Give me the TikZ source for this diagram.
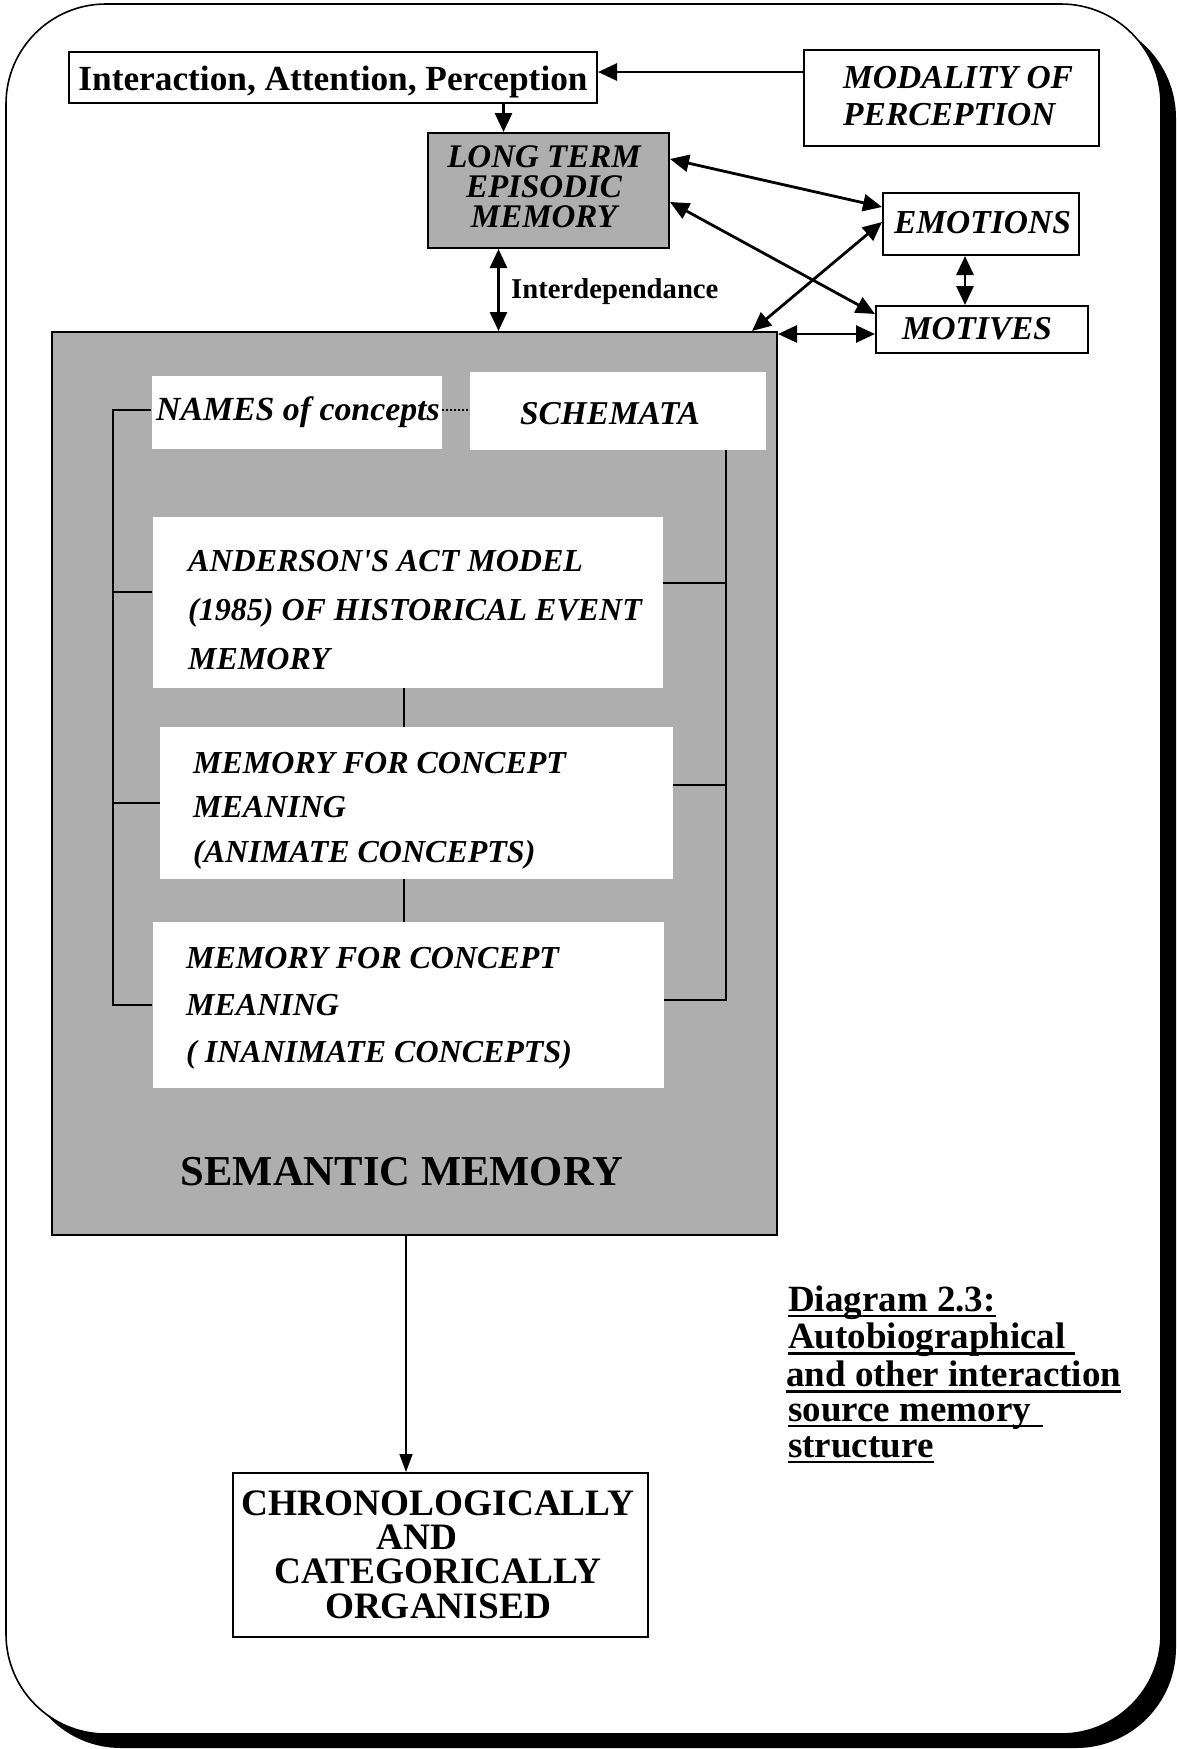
\documentclass[tikz,border=0pt]{standalone}
\usepackage{fontspec}
\setmainfont{Liberation Serif}
\usetikzlibrary{arrows.meta,fit}

\definecolor{halftone}{RGB}{174,174,174}

\begin{document}
\begin{tikzpicture}[x=1pt,y=-1pt,
  plainbox/.style={draw=black, line width=2pt, fill=white, inner sep=0pt},
  greybox/.style={draw=black, line width=2pt, fill=halftone, inner sep=0pt},
  panel/.style={fill=white, inner sep=0pt},
  txt/.style={inner sep=0pt, anchor=base},
  txtl/.style={inner sep=0pt, anchor=base west, align=left},
  arr/.style={line width=2.8pt, -{Triangle[length=19pt,width=17pt]}},
  dbl/.style={line width=2.8pt, {Triangle[length=19pt,width=17pt]}-{Triangle[length=19pt,width=17pt]}},
  thinarr/.style={line width=1.5pt, -{Triangle[length=18pt,width=13pt]}},
  link/.style={line width=2pt},
  uline/.style={line width=2.4pt},
]
\useasboundingbox (0,0) rectangle (1177,1749);

% page frame with drop shadow
\fill[black, rounded corners=100pt] (21,18) rectangle (1176,1748);
\draw[line width=1.6pt, fill=white, rounded corners=100pt] (6,4) rectangle (1161,1734);

% top boxes (multi-line texts are anchored at the baseline of their last line)
\node[plainbox, fit={(69,52) (597,103)}] (inter) {};
\node[txt, font=\bfseries\fontsize{35.3}{36}\selectfont] (tinter) at (333,90) {Interaction, Attention, Perception};

\node[plainbox, fit={(804,50) (1099,146)}] (modal) {};
\node[txtl, font=\bfseries\itshape\fontsize{33.5}{37}\selectfont] (tmodal) at (843,125) {MODALITY OF\\PERCEPTION};

\node[greybox, fit={(428,133) (669,248)}] (ltem) {};
\node[txt, align=center, font=\bfseries\itshape\fontsize{33}{30}\selectfont] (tltem) at (544,227) {LONG TERM\\EPISODIC\\MEMORY};

\node[plainbox, fit={(883,193) (1079,255)}] (emo) {};
\node[txt, font=\bfseries\itshape\fontsize{33.5}{36}\selectfont] (temo) at (982.5,233) {EMOTIONS};

\node[plainbox, fit={(876,306) (1088,353)}] (mot) {};
\node[txt, font=\bfseries\itshape\fontsize{33.3}{36}\selectfont] (tmot) at (977,339) {MOTIVES};

% semantic memory block
\node[greybox, fit={(52,332) (777,1235)}] (sem) {};
\node[txt, font=\bfseries\fontsize{42.6}{44}\selectfont] (tsem) at (402,1185) {SEMANTIC MEMORY};

\node[panel, fit={(151.5,376) (442,449)}] (names) {};
\node[txtl, font=\bfseries\itshape\fontsize{33.8}{36}\selectfont] (tnames) at (156,420) {NAMES \textit{of concepts}};

\node[panel, fit={(470,372) (766,450)}] (schem) {};
\node[txtl, font=\bfseries\itshape\fontsize{33.3}{36}\selectfont] (tschem) at (520,424) {SCHEMATA};

\node[panel, fit={(152.5,517) (663,688)}] (anders) {};
\node[txtl, font=\bfseries\itshape\fontsize{32}{49}\selectfont] (tanders) at (188,669.7) {ANDERSON\textquotesingle S ACT MODEL\\(1985) OF HISTORICAL EVENT\\MEMORY};

\node[panel, fit={(160,727) (672.6,879)}] (anim) {};
\node[txtl, font=\bfseries\itshape\fontsize{32}{44.5}\selectfont] (tanim) at (193,862) {MEMORY FOR CONCEPT\\MEANING\\(ANIMATE CONCEPTS)};

\node[panel, fit={(152.5,922) (664,1088)}] (inan) {};
\node[txtl, font=\bfseries\itshape\fontsize{32}{47}\selectfont] (tinan) at (186,1062) {MEMORY FOR CONCEPT\\MEANING\\( INANIMATE CONCEPTS)};

% result box
\node[plainbox, fit={(233,1473) (648,1637)}] (chrono) {};
\node[txt, align=center, font=\bfseries\fontsize{37.3}{34.3}\selectfont] (tchrono) at (438,1618) {CHRONOLOGICALLY\\AND\kern42pt\\CATEGORICALLY\\ORGANISED};

% caption
\begin{scope}[every node/.style={txtl, font=\bfseries\fontsize{37}{38}\selectfont}]
\node (cap1) at (788,1311) {Diagram 2.3:};
\node (cap2) at (788,1348.5) {Autobiographical};
\node (cap3) at (786,1386.5) {and other interaction};
\node (cap4) at (788,1421) {source memory};
\node (cap5) at (788,1457) {structure};
\end{scope}
\draw[uline] ([yshift=-5pt]cap1.base west) -- ([yshift=-5pt]cap1.base east);
\draw[uline] ([yshift=-5pt]cap2.base west) -- ([xshift=9pt,yshift=-5pt]cap2.base east);
\draw[uline] ([yshift=-5pt]cap3.base west) -- ([yshift=-5pt]cap3.base east);
\draw[uline] ([yshift=-5pt]cap4.base west) -- ([xshift=12pt,yshift=-5pt]cap4.base east);
\draw[uline] ([yshift=-5pt]cap5.base west) -- ([yshift=-5pt]cap5.base east);

% connectors between the upper boxes
\draw[arr] ([yshift=26pt]modal.west) -- ([yshift=26pt]modal.west -| inter.east);
\draw[arr] ([xshift=-45pt]ltem.north |- inter.south) -- ([xshift=-45pt]ltem.north);
\draw[dbl] ([xshift=-50pt]ltem.south) -- ([xshift=-50pt]ltem.south |- sem.north);
\node[txtl, font=\bfseries\fontsize{28.7}{30}\selectfont] (tdep) at (511,298) {Interdependance};
\draw[dbl] ([yshift=-27pt]ltem.north east) -- ([yshift=-15pt]emo.north west);
\draw[dbl] ([yshift=-70pt]ltem.north east) -- ([yshift=-9pt]mot.north west);
\draw[dbl] ([yshift=-30pt]emo.north west) -- ([xshift=-26pt]sem.north east);
\draw[dbl] ([xshift=-16pt]emo.south) -- ([xshift=-16pt]emo.south |- mot.north);
\draw[dbl] ([yshift=-3pt]sem.north east) -- ([yshift=-3pt]sem.north east -| mot.west);

% links inside semantic memory
\coordinate (lsp) at (113,0);
\coordinate (rsp) at (726,0);
\draw[link, dotted] ([yshift=3pt]names.east) -- ([yshift=3pt]names.east -| schem.west);
\draw[link] ([yshift=3pt]names.west) -| (inan.west -| lsp) -- (inan.west);
\draw[link] ([yshift=11pt]anders.west) -- ([yshift=11pt]anders.west -| lsp);
\draw[link] (anim.west) -- (anim.west -| lsp);
\draw[link] (schem.south -| rsp) |- ([yshift=5pt]inan.east);
\draw[link] ([yshift=20pt]anders.east) -- ([yshift=20pt]anders.east -| rsp);
\draw[link] ([yshift=18pt]anim.east) -- ([yshift=18pt]anim.east -| rsp);
\draw[link] ([xshift=-4pt]anders.south) -- ([xshift=-4pt]anders.south |- anim.north);
\draw[link] ([xshift=-12pt]anim.south) -- ([xshift=-12pt]anim.south |- inan.north);

% semantic memory to result
\draw[thinarr] ([xshift=-8.5pt]sem.south) -- ([xshift=-8.5pt]sem.south |- chrono.north);
\end{tikzpicture}
\end{document}
